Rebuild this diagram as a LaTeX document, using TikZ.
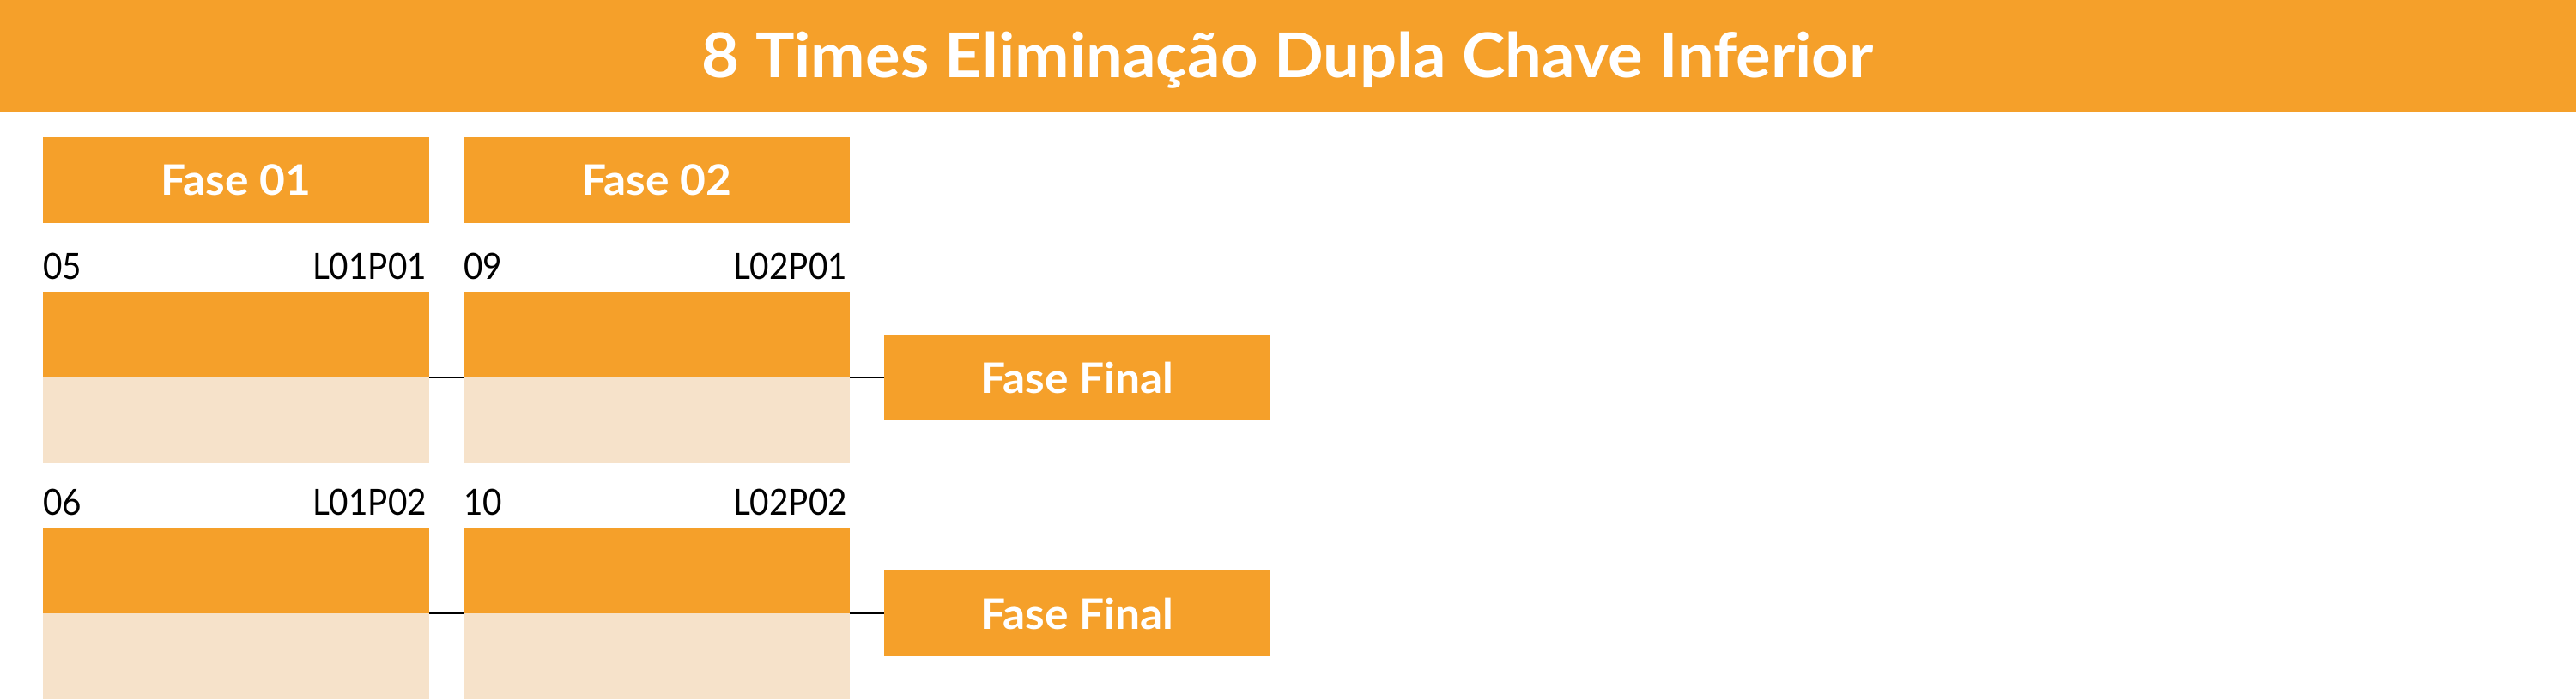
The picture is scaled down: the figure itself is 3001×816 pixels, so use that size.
\documentclass[tikz,border=0pt]{standalone}
\usepackage{fontspec}
\usepackage{graphicx}
\setmainfont{Lato}
\definecolor{orng}{HTML}{F5A02A}
\definecolor{lite}{HTML}{F6E2CA}
\newcommand{\hstretch}[2]{\scalebox{#1}[1]{#2}}
\begin{document}
\begin{tikzpicture}[x=1pt,y=-1pt,
  box/.style={rectangle,inner sep=0pt,outer sep=0pt,minimum width=450pt,minimum height=100pt,anchor=north west},
  hdr/.style={box,fill=orng,text=white,font=\fontsize{49}{55}\selectfont\bfseries},
  top/.style={box,fill=orng},
  bot/.style={box,fill=lite},
  lbl/.style={inner sep=0pt,font=\fontsize{42}{48}\selectfont},
  conn/.style={draw=black,line width=2pt}]
\useasboundingbox (0,0) rectangle (3001,816);
\node[rectangle,fill=orng,inner sep=0pt,minimum width=3001pt,minimum height=130pt,anchor=north west] (band) at (0,0) {};
\node[inner sep=0pt,anchor=base,text=white,font=\fontsize{72}{80}\selectfont\bfseries] (title) at (1500,90) {\hstretch{1.055}{8 Times Eliminação Dupla Chave Inferior}};
\node[hdr] (h1) at (50,160) {\hstretch{1.05}{Fase 01}};
\node[hdr] (h2) at (540,160) {\hstretch{1.05}{Fase 02}};
% row 1
\node[lbl,anchor=base west] (n05) at (50,325) {\hstretch{0.92}{05}};
\node[lbl,anchor=base east] (l1) at (497,325) {\hstretch{0.92}{L01P01}};
\node[lbl,anchor=base west] (n09) at (540,325) {\hstretch{0.92}{09}};
\node[lbl,anchor=base east] (l2) at (987,325) {\hstretch{0.92}{L02P01}};
\node[top] (a1t) at (50,340) {};
\node[bot] (a1b) at (50,440) {};
\node[top] (b1t) at (540,340) {};
\node[bot] (b1b) at (540,440) {};
\node[hdr] (f1) at (1030,390) {\hstretch{1.05}{Fase Final}};
% row 2
\node[lbl,anchor=base west] (n06) at (50,600) {\hstretch{0.92}{06}};
\node[lbl,anchor=base east] (l3) at (497,600) {\hstretch{0.92}{L01P02}};
\node[lbl,anchor=base west] (n10) at (540,600) {\hstretch{0.92}{10}};
\node[lbl,anchor=base east] (l4) at (987,600) {\hstretch{0.92}{L02P02}};
\node[top] (a2t) at (50,615) {};
\node[bot] (a2b) at (50,715) {};
\node[top] (b2t) at (540,615) {};
\node[bot] (b2b) at (540,715) {};
\node[hdr] (f2) at (1030,665) {\hstretch{1.05}{Fase Final}};
% connectors
\draw[conn] (a1t.south east) -- (b1t.south west);
\draw[conn] (b1t.south east) -- (f1.west);
\draw[conn] (a2t.south east) -- (b2t.south west);
\draw[conn] (b2t.south east) -- (f2.west);
\end{tikzpicture}
\end{document}
